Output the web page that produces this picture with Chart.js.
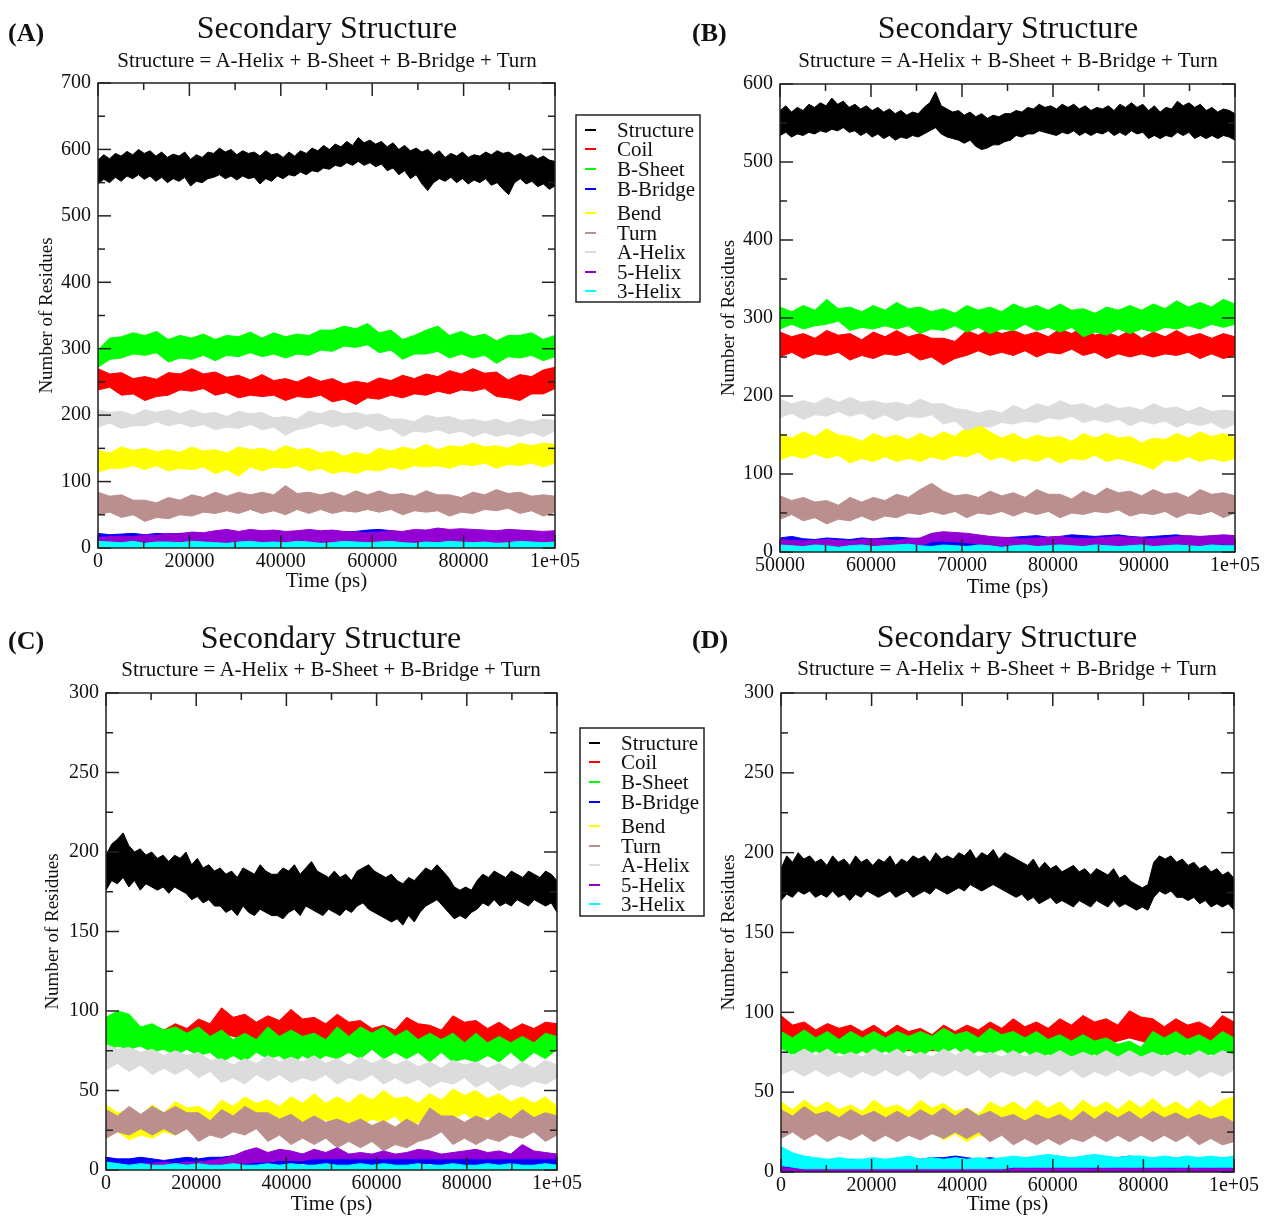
<!DOCTYPE html>
<html>
<head>
<meta charset="utf-8">
<title>Secondary Structure</title>
<script src="https://cdn.jsdelivr.net/npm/chart.js@4.4.1/dist/chart.umd.min.js"></script>
<style>
  html, body { margin: 0; padding: 0; background: #fff; }
  #page { position: relative; width: 1264px; height: 1217px; overflow: hidden;
          font-family: "Liberation Serif", "Times New Roman", serif; color: #111; }
  #page canvas { position: absolute; left: 0; top: 0; }
  .panel-label { position: absolute; font-size: 26px; font-weight: bold; line-height: 1; transform: translateY(-50%); }
  .title { position: absolute; font-size: 32px; line-height: 1; white-space: nowrap; transform: translate(-50%, -50%); }
  .subtitle { position: absolute; font-size: 21px; line-height: 1; white-space: nowrap; transform: translate(-50%, -50%); }
</style>
</head>
<body>
<div id="page">
  <canvas id="chartA" width="1264" height="1217"></canvas>
  <canvas id="chartB" width="1264" height="1217"></canvas>
  <canvas id="chartC" width="1264" height="1217"></canvas>
  <canvas id="chartD" width="1264" height="1217"></canvas>

  <div class="panel-label" style="left:8px; top:33px;">(A)</div>
  <div class="title" style="left:327px; top:27px;">Secondary Structure</div>
  <div class="subtitle" style="left:327px; top:60px;">Structure = A-Helix + B-Sheet + B-Bridge + Turn</div>

  <div class="panel-label" style="left:692px; top:33px;">(B)</div>
  <div class="title" style="left:1008px; top:27px;">Secondary Structure</div>
  <div class="subtitle" style="left:1008px; top:60px;">Structure = A-Helix + B-Sheet + B-Bridge + Turn</div>

  <div class="panel-label" style="left:8px; top:641px;">(C)</div>
  <div class="title" style="left:331px; top:637px;">Secondary Structure</div>
  <div class="subtitle" style="left:331px; top:669px;">Structure = A-Helix + B-Sheet + B-Bridge + Turn</div>

  <div class="panel-label" style="left:692px; top:640px;">(D)</div>
  <div class="title" style="left:1007px; top:636px;">Secondary Structure</div>
  <div class="subtitle" style="left:1007px; top:668px;">Structure = A-Helix + B-Sheet + B-Bridge + Turn</div>
</div>

<script>
// Series names and colours (xmgrace palette)
const seriesNames = ["Structure", "Coil", "B-Sheet", "B-Bridge", "Bend", "Turn", "A-Helix", "5-Helix", "3-Helix"];
const seriesColors = ["#000000", "#ff0000", "#00ff00", "#0000ff", "#ffff00", "#bc8f8f", "#dcdcdc", "#9400d3", "#00ffff"];

// Time ranges (ps) of each panel; every series is read as evenly spaced samples
const timeRangeA = [0, 100000];
const timeRangeB = [50000, 100000];
const timeRangeC = [0, 100000];
const timeRangeD = [0, 100000];

// Panel A: upper / lower edge of each noisy band (number of residues)
const aStructureHi = [584,592,586,594,590,597,592,600,594,598, 590,596,588,593,590,596,585,592,588,596, 594,602,596,600,592,598,594,596,590,598, 592,594,588,596,590,598,594,602,598,606, 600,608,604,612,606,618,610,614,608,612, 604,610,600,606,598,602,596,600,592,598, 588,594,590,596,588,592,590,596,592,598, 594,596,590,594,588,592,586,590,584,582];
const aStructureLo = [548,555,550,558,552,560,556,562,555,560, 552,558,550,556,552,558,545,552,550,556, 558,562,556,560,554,560,556,558,548,556, 552,560,556,562,560,566,562,568,566,572, 570,576,574,580,576,582,576,580,574,578, 568,572,562,568,556,562,548,538,550,556, 552,558,550,556,548,554,550,556,546,550, 540,532,550,556,548,552,544,548,540,545];
const aCoilHi = [270,262,264,255,258,254,264,262,270,262, 265,257,260,253,261,252,255,250,258,251, 255,247,251,248,256,252,260,255,262,258, 267,262,270,263,265,253,261,258,268,272];
const aCoilLo = [238,242,230,232,222,228,230,238,236,240, 230,234,226,230,228,230,222,228,226,230, 220,224,216,226,224,230,226,232,230,236, 232,238,236,240,228,226,222,232,232,240];
const aSheetHi = [298,316,318,324,320,326,314,320,316,322, 314,320,318,325,316,324,318,322,320,328, 328,334,330,338,324,328,314,320,328,334, 320,326,318,322,312,320,320,324,314,320];
const aSheetLo = [272,284,286,292,290,294,280,286,284,290, 282,290,288,294,288,292,286,292,290,298, 296,304,302,306,294,298,284,292,292,296, 286,292,286,290,278,288,286,290,282,288];
const aBridgeHi = [22,20,21,22,20,22,21,22,23,22, 22,24,22,24,23,24,22,24,22,23, 22,24,25,27,28,26,24,22,23,24, 25,24,22,23,24,24,22,23,22,22];
const aBridgeLo = [6,8,8,9,8,8,9,8,8,9, 8,8,9,8,8,10,8,9,8,8, 9,8,10,11,10,10,9,8,8,9, 8,9,8,8,9,8,8,9,8,8];
const aBendHi = [147,143,152,147,150,145,148,144,152,146, 148,143,152,148,150,145,154,148,150,143, 146,138,144,140,150,146,152,148,156,148, 154,152,158,152,154,150,158,154,158,156];
const aBendLo = [114,120,120,124,118,124,116,120,118,122, 112,118,108,122,116,122,120,124,116,120, 112,116,112,118,116,122,118,124,122,124, 120,126,124,128,120,126,124,128,122,128];
const aTurnHi = [84,78,80,72,72,68,76,72,80,76, 84,78,84,80,84,80,94,82,84,80, 84,78,86,80,86,80,82,78,86,80, 80,76,84,80,88,82,84,78,80,78];
const aTurnLo = [50,54,46,50,40,46,44,50,48,54, 52,56,52,58,52,56,50,58,52,58, 52,56,54,58,54,58,50,56,54,56, 48,54,52,58,56,60,52,56,48,54];
const aHelixHi = [208,204,206,200,208,204,208,202,208,202, 204,198,206,202,204,196,198,194,206,202, 208,202,204,200,202,194,194,190,200,196, 198,192,194,190,194,188,194,190,194,192];
const aHelixLo = [182,188,180,184,184,190,184,188,182,186, 178,182,180,186,178,182,170,178,182,188, 182,186,178,184,176,180,168,176,174,178, 172,176,168,174,168,172,168,174,168,176];
const a5HelixHi = [16,17,18,17,20,19,22,21,24,23, 26,28,25,28,26,27,25,26,28,26, 27,25,24,23,24,26,25,28,27,30, 28,29,28,27,26,28,27,26,25,26];
const a5HelixLo = [5,6,6,5,6,7,6,6,8,7, 8,9,8,8,9,8,6,8,9,8, 8,9,8,8,9,7,6,8,9,8, 9,8,8,9,8,8,9,8,8,8];
const a3HelixHi = [10,9,8,10,7,9,9,8,10,9, 8,7,9,10,8,9,8,10,9,7, 8,10,9,8,9,10,8,7,9,8, 10,9,8,9,7,8,10,9,8,9];
const a3HelixLo = [0,0,0,0,0,0,0,0,0,0, 0,0,0,0,0,0,0,0,0,0, 0,0,0,0,0,0,0,0,0,0, 0,0,0,0,0,0,0,0,0,0];

// Panel B
const bStructureHi = [566,572,564,570,566,574,570,576,572,582, 574,578,570,574,568,572,566,570,564,568, 562,566,560,564,562,570,576,590,572,568, 564,566,560,564,558,562,556,560,558,562, 562,566,564,570,568,574,570,572,568,574, 570,574,568,572,566,570,568,572,566,574, 570,576,570,574,566,572,564,570,568,578, 572,576,570,574,566,570,564,568,566,562];
const bStructureLo = [534,538,532,536,534,538,536,540,538,542, 540,544,538,540,534,538,532,536,530,534, 528,532,530,534,532,536,540,544,536,532, 530,528,524,528,520,516,518,522,522,526, 528,534,532,536,536,540,538,536,534,538, 536,540,534,538,534,538,536,540,534,538, 534,540,536,538,530,534,530,534,532,538, 534,538,530,534,530,534,530,534,532,528];
const bCoilHi = [282,276,280,274,284,278,280,272,282,276, 284,276,280,274,274,270,284,278,286,280, 284,278,282,276,286,280,288,278,282,276, 284,274,282,276,284,276,280,274,280,276];
const bCoilLo = [250,256,248,254,252,256,246,252,248,254, 252,256,246,250,240,248,252,258,252,256, 252,258,250,256,254,260,252,256,248,254, 250,254,250,254,252,256,248,254,248,252];
const bSheetHi = [314,308,316,310,324,312,314,308,316,310, 320,312,314,308,312,306,316,310,314,308, 318,312,316,310,318,310,312,306,314,310, 316,310,318,312,322,314,320,314,324,318];
const bSheetLo = [286,292,286,290,292,296,284,288,286,290, 286,290,280,286,284,290,282,288,280,286, 284,292,284,288,282,288,276,282,278,286, 280,286,282,288,286,290,286,292,288,292];
const bBridgeHi = [18,20,17,16,18,17,16,18,17,18, 19,18,17,18,20,22,21,18,17,18, 19,20,21,19,20,22,21,20,21,22, 20,19,20,21,22,20,19,20,21,20];
const bBridgeLo = [6,7,6,5,6,6,5,6,6,7, 6,6,7,6,7,8,8,7,6,6, 7,8,8,7,8,8,8,7,8,8, 7,6,7,8,8,7,6,7,8,7];
const bBendHi = [152,146,154,148,158,150,148,142,152,146, 150,144,152,146,154,148,160,164,154,146, 152,144,150,146,148,142,152,146,152,146, 148,140,146,144,152,146,154,148,152,146];
const bBendLo = [118,124,120,126,120,124,114,120,116,122, 116,120,116,122,118,124,122,128,118,122, 116,120,116,122,114,120,118,124,116,120, 116,112,106,118,116,122,116,120,116,120];
const bTurnHi = [72,66,70,64,66,60,70,64,70,66, 74,70,80,88,78,72,74,70,78,72, 76,70,80,74,74,68,78,72,82,76, 78,72,80,74,76,70,80,74,76,72];
const bTurnLo = [42,48,40,44,36,42,40,46,40,46, 44,50,48,52,48,52,44,50,48,52, 46,52,48,52,44,50,48,52,50,54, 46,50,48,52,44,50,48,52,44,50];
const bHelixHi = [196,190,194,190,198,192,198,192,194,190, 192,188,196,190,190,184,182,178,182,178, 188,182,190,186,194,188,190,184,190,184, 186,182,190,184,186,180,186,180,182,180];
const bHelixLo = [172,178,170,176,174,180,174,178,170,176, 168,174,172,176,164,168,156,162,160,166, 164,168,166,172,170,174,166,170,166,170, 162,168,164,168,160,166,162,166,158,164];
const b5HelixHi = [16,15,14,15,16,15,14,16,17,16, 15,17,18,24,26,25,24,22,20,19, 18,17,18,19,20,18,17,18,19,20, 19,18,17,18,20,21,20,21,22,21];
const b5HelixLo = [6,5,5,6,6,5,5,6,7,6, 6,7,8,13,14,13,12,10,9,8, 8,7,8,8,9,8,7,8,8,9, 8,8,7,8,9,9,8,9,10,9];
const b3HelixHi = [9,8,7,9,8,6,8,9,7,8, 9,10,8,7,9,8,7,9,8,6, 8,9,7,8,9,8,7,9,8,7, 8,9,7,8,9,8,7,9,8,8];
const b3HelixLo = [0,0,0,0,0,0,0,0,0,0, 0,0,0,0,0,0,0,0,0,0, 0,0,0,0,0,0,0,0,0,0, 0,0,0,0,0,0,0,0,0,0];

// Panel C
const cStructureHi = [198,205,208,212,204,200,202,198,200,196, 198,194,198,196,200,192,196,190,192,188, 190,186,188,184,190,188,186,192,188,186, 186,190,188,192,186,190,194,188,186,184, 188,184,186,182,188,190,192,188,186,184, 186,182,180,184,182,186,190,188,192,188, 184,178,176,178,176,182,186,184,188,186, 184,188,186,184,188,186,184,188,186,182];
const cStructureLo = [176,182,180,184,178,182,176,180,178,176, 178,174,178,176,174,170,172,168,170,166, 166,162,164,160,166,162,160,164,162,160, 160,158,162,164,160,166,164,162,160,164, 162,160,164,162,166,168,164,162,160,158, 156,158,154,160,156,162,166,168,170,166, 162,158,160,158,162,164,168,166,170,166, 168,166,170,168,166,170,168,166,168,162];
const cCoilHi = [96,92,93,89,91,88,92,89,95,92, 102,96,98,93,97,94,101,95,96,92, 98,93,94,89,91,88,96,92,91,88, 97,93,94,89,93,88,92,89,93,92];
const cCoilLo = [76,78,80,80,80,80,80,80,82,84, 86,84,82,82,82,84,84,82,80,82, 82,80,78,78,78,80,82,80,78,80, 82,80,80,78,80,78,78,80,80,80];
const cSheetHi = [96,100,98,90,92,88,90,86,90,84, 88,82,86,82,90,84,88,84,86,82, 90,84,90,86,90,84,88,82,86,82, 86,80,86,80,84,80,84,80,86,84];
const cSheetLo = [74,78,76,78,74,76,72,76,72,74, 68,72,68,74,70,72,66,72,68,72, 70,74,70,76,70,74,70,74,68,74, 68,70,68,72,68,74,68,74,70,76];
const cBridgeHi = [8,7,7,8,7,6,7,8,7,8, 8,9,8,9,9,8,9,10,9,8, 9,9,10,8,9,9,8,9,10,9, 8,9,8,9,8,9,9,8,9,8];
const cBridgeLo = [2,2,2,3,2,2,2,3,2,3, 3,3,3,3,3,3,3,4,3,3, 3,3,4,3,3,3,3,3,4,3, 3,3,3,3,3,3,3,3,3,3];
const cBendHi = [41,36,38,34,41,36,43,39,40,36, 44,40,46,42,44,40,46,42,48,42, 46,42,48,44,50,45,46,42,48,44, 51,47,50,45,48,43,46,42,46,40];
const cBendLo = [20,24,19,22,20,24,22,26,20,24, 22,26,26,30,26,30,26,30,28,32, 26,30,28,32,30,34,26,30,30,34, 32,36,30,34,28,32,26,30,26,30];
const cTurnHi = [38,34,40,35,40,36,40,36,36,31, 38,34,40,36,36,32,35,30,34,30, 32,29,32,28,31,27,32,28,39,34, 34,30,34,31,36,32,38,33,36,34];
const cTurnLo = [20,24,22,26,22,26,22,26,18,22, 20,24,22,26,18,22,16,20,16,20, 14,18,14,18,12,16,14,18,20,24, 16,20,16,20,18,22,20,24,18,22];
const cHelixHi = [79,76,77,74,76,72,75,72,74,69, 70,66,70,67,72,68,71,68,72,67, 70,66,71,67,70,66,69,65,68,64, 69,66,68,64,67,63,68,64,69,66];
const cHelixLo = [63,67,62,66,60,64,60,64,58,62, 55,58,54,60,56,60,55,58,56,60, 54,58,56,60,54,58,54,57,52,56, 54,58,52,56,50,54,52,56,54,58];
const c5HelixHi = [4,4,3,4,4,5,4,5,5,6, 7,9,12,14,11,13,12,10,13,11, 14,10,11,10,12,10,11,13,12,10, 11,12,13,11,12,10,16,12,11,10];
const c5HelixLo = [2,2,2,2,2,2,2,2,2,3, 3,4,4,5,5,6,6,6,7,7, 7,7,7,7,7,7,7,7,7,7, 7,7,7,7,7,7,7,7,7,7];
const c3HelixHi = [5,4,3,4,3,3,4,3,4,3, 3,4,3,3,4,3,4,3,3,4, 3,3,4,3,4,3,3,4,3,3, 4,3,3,4,3,4,3,3,4,3];
const c3HelixLo = [0,0,0,0,0,0,0,0,0,0, 0,0,0,0,0,0,0,0,0,0, 0,0,0,0,0,0,0,0,0,0, 0,0,0,0,0,0,0,0,0,0];

// Panel D
const dStructureHi = [190,198,194,200,196,198,194,196,192,198, 194,196,192,198,194,196,192,196,194,198, 192,196,194,198,196,198,194,200,196,198, 196,200,198,202,196,200,198,202,196,200, 198,196,194,192,196,190,194,190,192,188, 190,192,188,190,186,190,188,186,190,184, 186,182,180,178,180,194,198,196,198,194, 196,192,194,190,192,188,190,186,188,184];
const dStructureLo = [170,174,172,176,174,176,172,174,172,176, 172,174,170,174,172,176,174,172,174,176, 172,174,176,172,174,176,174,178,176,174, 176,178,176,180,178,176,178,180,178,176, 174,172,174,170,172,168,170,172,168,170, 168,166,170,168,166,170,168,166,170,166, 168,166,164,166,164,172,176,174,176,172, 172,170,172,168,170,166,168,166,168,164];
const dCoilHi = [98,92,94,89,93,90,92,88,92,87, 92,88,90,86,92,88,92,89,94,90, 96,91,94,90,96,92,98,94,96,92, 101,97,96,91,96,92,94,90,98,94];
const dCoilLo = [78,76,76,76,76,76,76,76,76,76, 76,76,76,76,76,78,78,78,78,78, 78,78,78,78,80,80,82,80,80,82, 84,82,80,78,80,80,78,80,80,80];
const dSheetHi = [88,84,89,84,88,83,88,84,88,84, 88,85,88,85,90,86,88,84,90,86, 88,84,88,83,86,82,86,82,84,80, 82,78,88,84,88,83,86,82,88,84];
const dSheetLo = [70,74,72,76,72,75,72,76,72,76, 72,77,72,77,74,78,72,76,74,77, 72,76,70,74,70,73,70,74,68,72, 66,70,70,74,70,74,70,74,70,74];
const dBridgeHi = [10,8,7,8,7,6,8,7,8,7, 8,9,8,9,9,10,9,8,9,8, 7,8,8,9,8,7,8,9,8,9, 10,9,8,8,9,8,7,8,9,8];
const dBridgeLo = [1,1,2,1,1,2,1,2,1,1, 2,1,2,2,1,2,2,1,2,1, 1,2,1,2,1,1,2,1,2,1, 2,1,1,2,1,2,1,1,2,1];
const dBendHi = [44,39,45,40,44,39,42,38,45,40, 42,38,45,40,43,38,40,36,44,40, 44,39,45,40,44,38,45,40,44,39, 45,40,46,40,44,39,45,40,45,47];
const dBendLo = [22,26,21,25,22,26,22,26,21,25, 22,26,22,26,20,24,19,23,22,26, 22,26,22,26,21,25,22,26,21,25, 22,26,22,26,21,25,22,26,22,26];
const dTurnHi = [39,35,41,36,38,34,39,35,38,34, 38,34,39,35,40,35,40,35,38,34, 36,32,36,33,36,32,38,33,38,34, 38,33,38,34,37,33,36,33,35,31];
const dTurnLo = [21,25,20,24,19,23,20,24,19,23, 19,23,20,24,21,25,21,25,19,23, 17,21,17,21,17,21,19,23,19,23, 19,23,19,23,19,23,17,21,17,19];
const dHelixHi = [77,73,77,73,77,72,75,72,77,73, 77,72,75,72,77,73,77,72,75,72, 76,72,75,72,76,72,75,72,76,72, 76,72,75,72,75,72,76,72,76,73];
const dHelixLo = [61,64,60,64,60,63,59,63,60,64, 60,64,58,63,60,64,60,64,59,63, 60,63,60,64,60,64,59,63,60,64, 60,63,60,64,60,64,59,63,60,64];
const d5HelixHi = [3,2,3,2,3,2,2,3,2,3, 2,3,2,2,3,2,3,2,3,2, 2,3,2,3,2,3,2,2,3,2, 3,2,3,2,2,3,2,3,2,3];
const d5HelixLo = [0,0,0,0,0,0,0,0,0,0, 0,0,0,0,0,0,0,0,0,0, 0,0,0,0,0,0,0,0,0,0, 0,0,0,0,0,0,0,0,0,0];
const d3HelixHi = [16,12,10,9,8,9,8,8,9,8, 9,10,8,9,8,9,8,9,8,9, 10,9,10,11,10,9,10,11,10,9, 10,10,9,10,9,10,9,10,9,10];
const d3HelixLo = [4,3,2,2,2,2,2,2,2,2, 2,2,2,2,2,2,2,2,2,2, 3,3,3,3,3,3,3,3,3,3, 3,3,3,3,3,3,3,3,3,3];

const serif = "'Liberation Serif', 'Times New Roman', serif";
const inkColor = "#111111";

// times of the samples, spread over the panel's time range
function sampleTimes(range, n) {
    const step = (range[1] - range[0]) / (n - 1);
    return Array.from({ length: n }, (_, i) => range[0] + i * step);
}

// each series = lower edge line + upper edge line filled down to it
function bandDatasets(range, hiList, loList) {
    const sets = [];
    // last series first so that it is drawn on top
    for (let s = seriesNames.length - 1; s >= 0; s--) {
        const color = seriesColors[s];
        const times = sampleTimes(range, hiList[s].length);
        sets.push({
            label: seriesNames[s] + " (low)",
            data: loList[s].map((v, i) => ({ x: times[i], y: v })),
            borderColor: color,
            borderWidth: 1,
            pointRadius: 0,
            fill: false,
        });
        sets.push({
            label: seriesNames[s],
            data: hiList[s].map((v, i) => ({ x: times[i], y: v })),
            borderColor: color,
            backgroundColor: color,
            borderWidth: 1,
            pointRadius: 0,
            fill: "-1",
        });
    }
    return sets;
}

// box around the plot with inward ticks on all four sides
const framePlugin = {
    id: "frame",
    afterDatasetsDraw(chart) {
        const { ctx, chartArea: a, scales } = chart;
        const line = (x1, y1, x2, y2) => { ctx.beginPath(); ctx.moveTo(x1, y1); ctx.lineTo(x2, y2); ctx.stroke(); };
        ctx.save();
        ctx.strokeStyle = "#222";
        ctx.lineWidth = 1.5;
        ctx.strokeRect(a.left, a.top, a.right - a.left, a.bottom - a.top);
        const xt = scales.x.ticks;
        xt.forEach((t, i) => {
            const px = scales.x.getPixelForValue(t.value);
            line(px, a.bottom, px, a.bottom - 13);
            line(px, a.top, px, a.top + 13);
            if (i < xt.length - 1) {
                const mx = scales.x.getPixelForValue((t.value + xt[i + 1].value) / 2);
                line(mx, a.bottom, mx, a.bottom - 7);
                line(mx, a.top, mx, a.top + 7);
            }
        });
        const yt = scales.y.ticks;
        yt.forEach((t, i) => {
            const py = scales.y.getPixelForValue(t.value);
            line(a.left, py, a.left + 13, py);
            line(a.right, py, a.right - 13, py);
            if (i < yt.length - 1) {
                const my = scales.y.getPixelForValue((t.value + yt[i + 1].value) / 2);
                line(a.left, my, a.left + 7, my);
                line(a.right, my, a.right - 7, my);
            }
        });
        ctx.restore();
    }
};

// xmgrace style legend box
const rowOffsets = [15, 34, 54, 74, 98, 118, 137, 157, 176];
const boxLegendPlugin = {
    id: "boxLegend",
    afterDraw(chart, args, opts) {
        if (!opts || !opts.show) return;
        const { ctx } = chart;
        ctx.save();
        ctx.fillStyle = "#fff";
        ctx.fillRect(opts.left, opts.top, opts.width, opts.height);
        ctx.strokeStyle = "#222";
        ctx.lineWidth = 1.5;
        ctx.strokeRect(opts.left, opts.top, opts.width, opts.height);
        ctx.font = "21px " + serif;
        ctx.textBaseline = "middle";
        seriesNames.forEach((name, i) => {
            const y = opts.top + rowOffsets[i];
            ctx.strokeStyle = seriesColors[i];
            ctx.lineWidth = 2;
            ctx.beginPath();
            ctx.moveTo(opts.left + 9, y);
            ctx.lineTo(opts.left + 20, y);
            ctx.stroke();
            ctx.fillStyle = inkColor;
            ctx.fillText(name, opts.left + 41, y + 1);
        });
        ctx.restore();
    }
};

function tickText(v) {
    return v === 100000 ? "1e+05" : String(v);
}

const panels = [
    { id: "chartA", range: timeRangeA, yMax: 700, yStep: 100, xStep: 20000,
      hi: [aStructureHi, aCoilHi, aSheetHi, aBridgeHi, aBendHi, aTurnHi, aHelixHi, a5HelixHi, a3HelixHi],
      lo: [aStructureLo, aCoilLo, aSheetLo, aBridgeLo, aBendLo, aTurnLo, aHelixLo, a5HelixLo, a3HelixLo],
      box: { l: 98, t: 83, r: 555, b: 548 }, yW: 62, xH: 46,
      legend: { show: true, left: 576, top: 115, width: 124, height: 187 } },
    { id: "chartB", range: timeRangeB, yMax: 600, yStep: 100, xStep: 10000,
      hi: [bStructureHi, bCoilHi, bSheetHi, bBridgeHi, bBendHi, bTurnHi, bHelixHi, b5HelixHi, b3HelixHi],
      lo: [bStructureLo, bCoilLo, bSheetLo, bBridgeLo, bBendLo, bTurnLo, bHelixLo, b5HelixLo, b3HelixLo],
      box: { l: 780, t: 84, r: 1235, b: 552 }, yW: 62, xH: 48,
      legend: { show: false } },
    { id: "chartC", range: timeRangeC, yMax: 300, yStep: 50, xStep: 20000,
      hi: [cStructureHi, cCoilHi, cSheetHi, cBridgeHi, cBendHi, cTurnHi, cHelixHi, c5HelixHi, c3HelixHi],
      lo: [cStructureLo, cCoilLo, cSheetLo, cBridgeLo, cBendLo, cTurnLo, cHelixLo, c5HelixLo, c3HelixLo],
      box: { l: 106, t: 693, r: 557, b: 1170 }, yW: 64, xH: 47,
      legend: { show: true, left: 580, top: 728, width: 124, height: 188 } },
    { id: "chartD", range: timeRangeD, yMax: 300, yStep: 50, xStep: 20000,
      hi: [dStructureHi, dCoilHi, dSheetHi, dBridgeHi, dBendHi, dTurnHi, dHelixHi, d5HelixHi, d3HelixHi],
      lo: [dStructureLo, dCoilLo, dSheetLo, dBridgeLo, dBendLo, dTurnLo, dHelixLo, d5HelixLo, d3HelixLo],
      box: { l: 781, t: 693, r: 1234, b: 1172 }, yW: 63, xH: 45,
      legend: { show: false } },
];

panels.forEach(p => {
    const ctx = document.getElementById(p.id).getContext("2d");
    new Chart(ctx, {
        type: "line",
        data: { datasets: bandDatasets(p.range, p.hi, p.lo) },
        options: {
            responsive: false,
            animation: false,
            events: [],
            layout: {
                padding: {
                    left: p.box.l - p.yW,
                    top: p.box.t,
                    right: 1264 - p.box.r,
                    bottom: 1217 - p.box.b - p.xH,
                }
            },
            plugins: {
                legend: { display: false },
                tooltip: { enabled: false },
                boxLegend: p.legend,
            },
            scales: {
                x: {
                    type: "linear",
                    min: p.range[0],
                    max: p.range[1],
                    grid: { display: false, drawTicks: false },
                    border: { display: false },
                    ticks: {
                        stepSize: p.xStep,
                        autoSkip: false,
                        maxRotation: 0,
                        padding: 2,
                        color: inkColor,
                        font: { family: serif, size: 20 },
                        callback: tickText,
                    },
                    title: {
                        display: true,
                        text: "Time (ps)",
                        color: inkColor,
                        font: { family: serif, size: 21 },
                        padding: { top: 0, bottom: 0 },
                    },
                    afterFit: scale => { scale.height = p.xH; },
                },
                y: {
                    min: 0,
                    max: p.yMax,
                    grid: { display: false, drawTicks: false },
                    border: { display: false },
                    ticks: {
                        stepSize: p.yStep,
                        padding: 7,
                        color: inkColor,
                        font: { family: serif, size: 20 },
                        callback: tickText,
                    },
                    title: {
                        display: true,
                        text: "Number of Residues",
                        color: inkColor,
                        font: { family: serif, size: 19 },
                        padding: { top: 0, bottom: 0 },
                    },
                    afterFit: scale => { scale.width = p.yW; },
                },
            },
        },
        plugins: [framePlugin, boxLegendPlugin],
    });
});
</script>
</body>
</html>
